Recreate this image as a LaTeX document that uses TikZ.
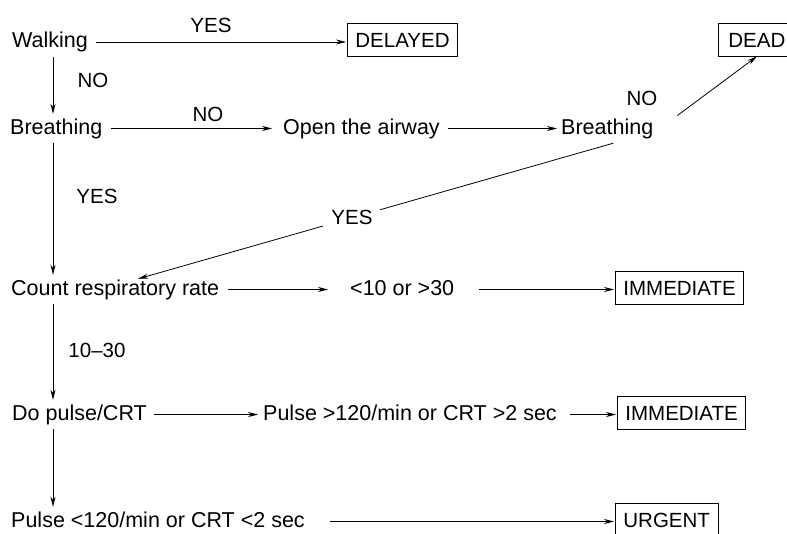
\documentclass[tikz,border=0pt]{standalone}
\usepackage{fontspec}
\setmainfont{Liberation Sans}
\usetikzlibrary{arrows,arrows.meta,calc}
\tikzset{>={Stealth[length=10pt,width=5pt]}}
\tikzset{
  every node/.style={font=\fontsize{20.5}{24}\selectfont},
  stage/.style={font=\fontsize{21.5}{25}\selectfont,inner xsep=0pt,inner ysep=5pt,text height=15pt,text depth=4pt,anchor=base west},
  outcome/.style={draw,line width=0.8pt,inner xsep=8pt,inner ysep=9pt,text height=15pt,text depth=0pt,anchor=base west},
  answer/.style={inner sep=0pt,anchor=base},
  link/.style={->,line width=0.8pt},
}

\begin{document}
\begin{tikzpicture}[x=1pt,y=-1pt]
\useasboundingbox (0,0) rectangle (787,533);
\coordinate (spine) at (53,0);

% first question
\node[stage] (walk) at (12,47.5) {Walking};
\node[outcome] (delayed) at (347,47) {DELAYED};
\node[outcome,inner xsep=10pt] (dead) at (718,47) {DEAD};

% airway
\node[stage] (breathA) at (10,134) {Breathing};
\node[stage] (airway) at (283,134) {Open the airway};
\node[stage] (breathB) at (561,134) {Breathing};

% respiration
\node[stage] (count) at (11,295) {Count respiratory rate};
\node[stage] (rate) at (350,295) {<10 or >30};
\node[outcome] (immA) at (615,295) {IMMEDIATE};

% circulation
\node[stage] (pulse) at (12,420) {Do pulse/CRT};
\node[stage] (fast) at (263,420) {Pulse >120/min or CRT >2 sec};
\node[outcome] (immB) at (617,420) {IMMEDIATE};
\node[stage] (slow) at (11,527) {Pulse <120/min or CRT <2 sec};
\node[outcome] (urgent) at (615,527) {URGENT};

% answers
\node[answer] (yesA) at (211,32) {YES};
\node[answer] (noA) at (93,87) {NO};
\node[answer] (noB) at (208,121) {NO};
\node[answer] (noC) at (642,105) {NO};
\node[answer] (yesB) at (97,203) {YES};
\node[answer] (range) at (97,357) {10--30};

% horizontal arrows
\draw[link,shorten <=8pt,shorten >=1pt] (walk.east) -- (walk.east -| delayed.west);
\draw[link,shorten <=9pt,shorten >=11pt] (breathA.east) -- (airway.west);
\draw[link,shorten <=8pt,shorten >=4pt] (airway.east) -- (breathB.west);
\draw[link,shorten <=9pt,shorten >=22pt] (count.east) -- (rate.west);
\draw[link,shorten <=25pt,shorten >=1pt] (rate.east) -- (rate.east -| immA.west);
\draw[link,shorten <=7pt,shorten >=5pt] (pulse.east) -- (fast.west);
\draw[link,shorten <=13pt,shorten >=1pt] (fast.east) -- (fast.east -| immB.west);
\draw[link,shorten <=25pt,shorten >=1pt] (slow.east) -- (slow.east -| urgent.west);

% down the left side
\draw[link] (walk.south -| spine) -- (breathA.north -| spine);
\draw[link] (breathA.south -| spine) -- (count.north -| spine);
\draw[link] (count.south -| spine) -- (pulse.north -| spine);
\draw[link] (pulse.south -| spine) -- (slow.north -| spine);

% second breathing check
\draw[link] ([xshift=24pt,yshift=13pt]breathB.east) -- (dead.south);
\draw[link] ([xshift=6pt]breathB.south) -- node[pos=.55,fill=white,inner xsep=8pt,inner ysep=4pt] (yesC) {YES} ([xshift=23pt,yshift=-4pt]count.north);
\end{tikzpicture}
\end{document}
